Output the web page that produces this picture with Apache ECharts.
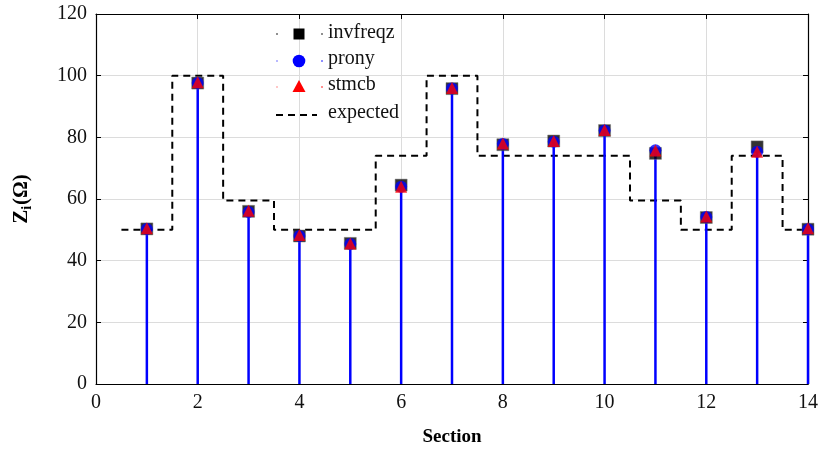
<!DOCTYPE html>
<html><head><meta charset="utf-8">
<script src="https://cdn.jsdelivr.net/npm/echarts@6/dist/echarts.min.js"></script>
<style>html,body{margin:0;padding:0;background:#fff}#c{width:822px;height:452px}</style>
</head><body><div id="c"></div>
<script>
// Estimated line impedance per section from three identification methods
const sections = [1, 2, 3, 4, 5, 6, 7, 8, 9, 10, 11, 12, 13, 14];
const invfreqz = [50.3, 97.6, 56.0, 48.0, 45.6, 64.5, 95.8, 77.6, 78.8, 82.2, 74.8, 54.0, 76.9, 50.2];
const prony    = [50.3, 97.6, 55.8, 48.0, 45.4, 64.0, 95.8, 77.8, 78.6, 82.2, 75.8, 54.2, 75.3, 50.2];
const stmcb    = [50.5, 97.9, 56.2, 48.3, 45.6, 64.0, 96.0, 78.0, 78.8, 82.4, 75.7, 54.3, 75.3, 50.5];
const expected = [50, 100, 59.5, 50, 50, 74, 100, 74, 74, 74, 59.5, 50, 74, 50];
const xTicks = [0, 2, 4, 6, 8, 10, 12, 14];
const yTicks = [0, 20, 40, 60, 80, 100, 120];

const SERIF = '"Liberation Serif", "Times New Roman", serif';
const pair = (xs, ys) => xs.map((x, i) => [x, ys[i]]);

// Piecewise-constant expected profile: each section spans +/- 0.5 around its index
const expectedSteps = [];
sections.forEach((s, i) => {
  expectedSteps.push([s - 0.5, expected[i]], [s + 0.5, expected[i]]);
});

const chart = echarts.init(document.getElementById('c'), null, { renderer: 'canvas' });

const tickStyle = { show: true, inside: true, length: 5, lineStyle: { color: '#000', width: 1 } };
const axisLine = { show: true, onZero: false, lineStyle: { color: '#000', width: 1.2 } };
const gridLine = { show: true, lineStyle: { color: '#dcdcdc', width: 1 } };

const Z = 50;
const legendItems = [
  // comb dots, marker, label
  { type: 'circle', shape: { cx: 277, cy: 34, r: 0.8 }, style: { fill: '#000' } },
  { type: 'circle', shape: { cx: 322, cy: 34, r: 0.8 }, style: { fill: '#000' } },
  { type: 'rect', shape: { x: 293.5, y: 28.5, width: 11, height: 11 }, style: { fill: '#000' } },
  { type: 'text', x: 328, y: 23, style: { text: 'invfreqz', font: '20px ' + SERIF, fill: '#111' } },

  { type: 'circle', shape: { cx: 277, cy: 61, r: 0.8 }, style: { fill: '#6060ff' } },
  { type: 'circle', shape: { cx: 322, cy: 61, r: 0.8 }, style: { fill: '#0000ff' } },
  { type: 'circle', shape: { cx: 299, cy: 61, r: 6.3 }, style: { fill: '#0000ff' } },
  { type: 'text', x: 328, y: 49, style: { text: 'prony', font: '20px ' + SERIF, fill: '#111' } },

  { type: 'circle', shape: { cx: 277, cy: 87, r: 0.8 }, style: { fill: '#ff8080' } },
  { type: 'circle', shape: { cx: 322, cy: 87, r: 0.8 }, style: { fill: '#ff0000' } },
  { type: 'polygon', shape: { points: [[299, 80], [305.5, 92], [292.5, 92]] }, style: { fill: '#ff0000' } },
  { type: 'text', x: 328, y: 75, style: { text: 'stmcb', font: '20px ' + SERIF, fill: '#111' } },

  { type: 'line', shape: { x1: 276, y1: 115, x2: 317, y2: 115 }, style: { stroke: '#000', lineWidth: 2, lineDash: [7, 5] } },
  { type: 'text', x: 328, y: 103, style: { text: 'expected', font: '20px ' + SERIF, fill: '#111' } }
].map(el => Object.assign({ z: Z, zlevel: 1 }, el));

const option = {
  animation: false,
  backgroundColor: '#fff',
  grid: { left: 96, right: 14, top: 14, bottom: 67, containLabel: false },
  xAxis: [{
    type: 'value', min: xTicks[0], max: xTicks[xTicks.length - 1], interval: 2,
    name: 'Section', nameLocation: 'middle', nameGap: 44,
    nameTextStyle: { fontFamily: SERIF, fontWeight: 'bold', fontSize: 19, color: '#000' },
    axisLine, axisTick: tickStyle, splitLine: gridLine,
    axisLabel: { fontFamily: SERIF, fontSize: 20, color: '#111', margin: 9 }
  }, {
    type: 'value', position: 'top', min: xTicks[0], max: xTicks[xTicks.length - 1], interval: 2,
    axisLine, axisTick: tickStyle, splitLine: { show: false }, axisLabel: { show: false }
  }],
  yAxis: [{
    type: 'value', min: yTicks[0], max: yTicks[yTicks.length - 1], interval: 20,
    name: '{b|Z}{s|i}{b|(Ω)}', nameLocation: 'middle', nameGap: 62, nameRotate: 90,
    nameTextStyle: {
      color: '#000',
      rich: {
        b: { fontFamily: SERIF, fontWeight: 'bold', fontSize: 21, color: '#000' },
        s: { fontFamily: SERIF, fontWeight: 'bold', fontSize: 14, color: '#000', padding: [10, 1, 0, 0] }
      }
    },
    axisLine, axisTick: tickStyle, splitLine: gridLine,
    axisLabel: { fontFamily: SERIF, fontSize: 20, color: '#111', margin: 9 }
  }, {
    type: 'value', position: 'right', min: yTicks[0], max: yTicks[yTicks.length - 1], interval: 20,
    axisLine, axisTick: tickStyle, splitLine: { show: false }, axisLabel: { show: false }
  }],
  series: [
    {
      name: 'expected', type: 'line', data: expectedSteps, symbol: 'none', clip: true,
      lineStyle: { color: '#000', width: 2, type: [7, 5] }, z: 2
    },
    {
      name: 'stem', type: 'bar', data: pair(sections, prony), barWidth: 2.5,
      itemStyle: { color: '#0000ff' }, z: 3
    },
    {
      name: 'invfreqz', type: 'scatter', data: pair(sections, invfreqz), symbol: 'rect', symbolSize: 12,
      itemStyle: { color: '#000', borderColor: '#777', borderWidth: 0.6 }, z: 4
    },
    {
      name: 'prony', type: 'scatter', data: pair(sections, prony), symbol: 'circle', symbolSize: 12,
      itemStyle: { color: '#0000ff' }, z: 5
    },
    {
      name: 'stmcb', type: 'scatter', data: pair(sections, stmcb), symbol: 'triangle', symbolSize: 12,
      itemStyle: { color: '#ff0000' }, z: 6
    }
  ],
  graphic: legendItems
};
chart.setOption(option);
</script>
</body></html>
